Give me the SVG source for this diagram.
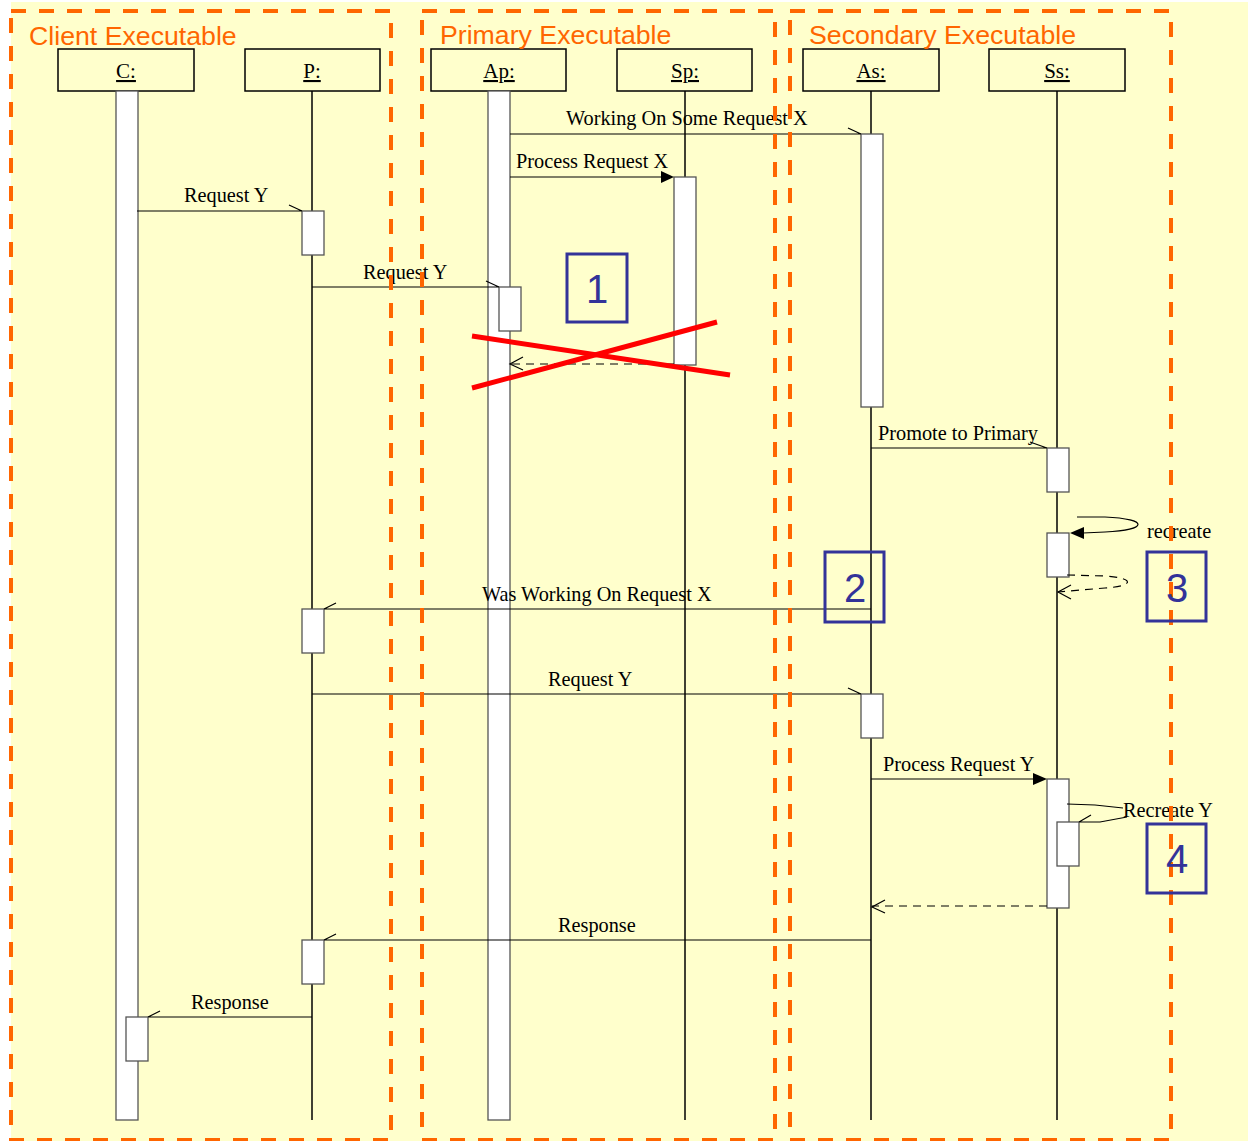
<svg xmlns="http://www.w3.org/2000/svg" width="1248" height="1141" viewBox="0 0 1248 1141">
<style>
.hdr{fill:#FFFFCC;stroke:#000;stroke-width:1.5}
.hl{font-family:"Liberation Serif",serif;font-size:21px;text-anchor:middle;text-decoration:underline;fill:#000}
.life{stroke:#000;stroke-width:1.5;fill:none}
.bar{fill:#fff;stroke:#555;stroke-width:1.3}
.msg{stroke:#000;stroke-width:1.2;fill:none}
.dash{stroke:#000;stroke-width:1.2;fill:none;stroke-dasharray:8 6}
.lbl{font-family:"Liberation Serif",serif;font-size:20.3px;fill:#000}
.frame{fill:none;stroke:#FF6600;stroke-width:4;stroke-dasharray:15 13}
.ft{font-family:"Liberation Sans",Arial,sans-serif;font-size:26.7px;fill:#FF6600}
.num{fill:none;stroke:#333399;stroke-width:3}
.nt{font-family:"Liberation Sans",Arial,sans-serif;font-size:40px;fill:#333399;text-anchor:middle}
.cross{stroke:#FF0000;stroke-width:5}
</style>
<rect x="0" y="0" width="1248" height="1141" fill="#FFFFFF"/>
<rect x="11" y="2" width="1237" height="1139" fill="#FFFFCC"/>

<g id="lifeline-C">
<rect class="hdr" x="58" y="49" width="136" height="42"/>
<text class="hl" x="126" y="78">C:</text>
<line class="life" x1="126" y1="91" x2="126" y2="1120"/>
<rect class="bar" x="116" y="91" width="22" height="1029"/>
<rect class="bar" x="126" y="1017" width="22" height="44"/>
</g>
<g id="lifeline-P">
<rect class="hdr" x="245" y="49" width="135" height="42"/>
<text class="hl" x="312" y="78">P:</text>
<line class="life" x1="312" y1="91" x2="312" y2="1120"/>
<rect class="bar" x="302" y="211" width="22" height="44"/>
<rect class="bar" x="302" y="609" width="22" height="44"/>
<rect class="bar" x="302" y="940" width="22" height="44"/>
</g>
<g id="lifeline-Ap">
<rect class="hdr" x="431" y="49" width="135" height="42"/>
<text class="hl" x="499" y="78">Ap:</text>
<line class="life" x1="499" y1="91" x2="499" y2="1120"/>
<rect class="bar" x="488" y="91" width="22" height="1029"/>
<rect class="bar" x="499" y="287" width="22" height="44"/>
</g>
<g id="lifeline-Sp">
<rect class="hdr" x="617" y="49" width="135" height="42"/>
<text class="hl" x="685" y="78">Sp:</text>
<line class="life" x1="685" y1="91" x2="685" y2="1120"/>
<rect class="bar" x="674" y="177" width="22" height="188"/>
</g>
<g id="lifeline-As">
<rect class="hdr" x="803" y="49" width="136" height="42"/>
<text class="hl" x="871" y="78">As:</text>
<line class="life" x1="871" y1="91" x2="871" y2="1120"/>
<rect class="bar" x="861" y="134" width="22" height="273"/>
<rect class="bar" x="861" y="694" width="22" height="44"/>
</g>
<g id="lifeline-Ss">
<rect class="hdr" x="989" y="49" width="136" height="42"/>
<text class="hl" x="1057" y="78">Ss:</text>
<line class="life" x1="1057" y1="91" x2="1057" y2="1120"/>
<rect class="bar" x="1047" y="448" width="22" height="44"/>
<rect class="bar" x="1047" y="533" width="22" height="44"/>
<rect class="bar" x="1047" y="779" width="22" height="129"/>
<rect class="bar" x="1057" y="822" width="22" height="44"/>
</g>

<g id="connectors">
<path class="msg" d="M510,134 H861 M848,128 L861,134"/>
<text class="lbl" x="566" y="125">Working On Some Request X</text>
<path class="msg" d="M510,177 H662"/>
<polygon points="674,177 661,171 661,183" fill="#000"/>
<text class="lbl" x="516" y="168">Process Request X</text>
<path class="msg" d="M137,211 H302 M289,205 L302,211"/>
<text class="lbl" x="184" y="202">Request Y</text>
<path class="msg" d="M312,287 H499 M486,281 L499,287"/>
<text class="lbl" x="363" y="279">Request Y</text>
<path class="dash" d="M674,364 H510"/>
<path class="msg" d="M523,357 L510,364 L523,370"/>
<path class="msg" d="M871,448 H1047 M1030,442 L1047,448"/>
<text class="lbl" x="878" y="440">Promote to Primary</text>
<path class="msg" d="M1077,517 L1105,517 C1150,519 1148,530 1105,532 L1083,533"/>
<polygon points="1070,533 1084,527 1084,539" fill="#000"/>
<text class="lbl" x="1147" y="538">recreate</text>
<path class="dash" d="M1067,575 L1105,576 C1135,578 1135,586 1105,588 L1058,592"/>
<path class="msg" d="M1071,585 L1058,592 L1071,599"/>
<path class="msg" d="M871,609 H324 M336,603 L324,609"/>
<text class="lbl" x="482" y="601">Was Working On Request X</text>
<path class="msg" d="M312,694 H861 M848,688 L861,694"/>
<text class="lbl" x="548" y="686">Request Y</text>
<path class="msg" d="M871,779 H1034"/>
<polygon points="1047,779 1033,773 1033,785" fill="#000"/>
<text class="lbl" x="883" y="771">Process Request Y</text>
<path class="msg" d="M1067,804 L1095,805 L1123,808 M1127,817 L1100,822 L1079,822 M1079,822 L1091,815"/>
<text class="lbl" x="1123" y="817">Recreate Y</text>
<path class="dash" d="M1047,906 H872"/>
<path class="msg" d="M885,900 L872,907 L885,913"/>
<path class="msg" d="M871,940 H324 M336,934 L324,940"/>
<text class="lbl" x="558" y="932">Response</text>
<path class="msg" d="M312,1017 H148 M160,1011 L148,1017"/>
<text class="lbl" x="191" y="1009">Response</text>
</g>

<g id="frames">
<rect class="frame" x="11" y="11" width="380" height="1129"/>
<rect class="frame" x="422" y="11" width="353" height="1129"/>
<rect class="frame" x="790" y="11" width="381" height="1129"/>
<text class="ft" x="29" y="45">Client Executable</text>
<text class="ft" x="440" y="44">Primary Executable</text>
<text class="ft" x="809" y="44">Secondary Executable</text>
</g>

<g id="markers">
<rect class="num" x="567" y="254" width="60" height="68"/>
<text class="nt" x="597" y="303">1</text>
<rect class="num" x="825" y="552" width="59" height="70"/>
<text class="nt" x="855" y="602">2</text>
<rect class="num" x="1147" y="552" width="59" height="69"/>
<text class="nt" x="1177" y="602">3</text>
<rect class="num" x="1147" y="824" width="59" height="69"/>
<text class="nt" x="1177" y="873">4</text>
</g>

<g id="cross">
<line class="cross" x1="472" y1="336" x2="730" y2="375"/>
<line class="cross" x1="472" y1="388" x2="717" y2="322"/>
</g>
</svg>
